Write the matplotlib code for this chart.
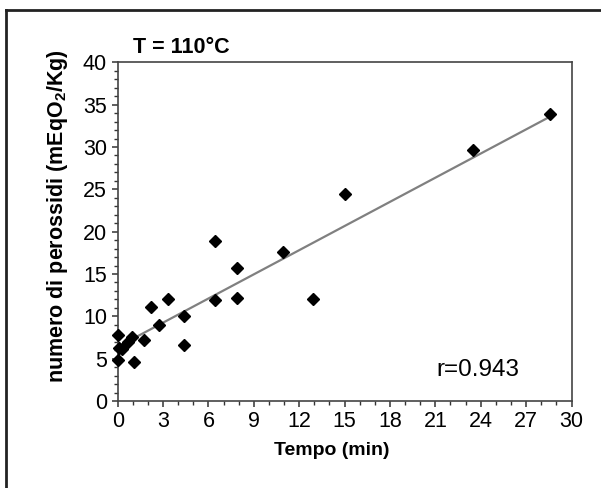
import matplotlib
matplotlib.use("Agg")
import matplotlib.pyplot as plt
from matplotlib.lines import Line2D

plt.rcParams['font.family'] = ['Liberation Sans', 'DejaVu Sans']
plt.rcParams['mathtext.fontset'] = 'custom'
plt.rcParams['mathtext.rm'] = 'Liberation Sans'
plt.rcParams['mathtext.bf'] = 'Liberation Sans:bold'

# data (time in min, peroxide number)
time_min = [0.0, 0.0, 0.1, 0.3, 0.7, 0.95, 1.1, 1.75, 2.2, 2.75, 3.35, 4.4, 4.4,
            6.4, 6.4, 7.9, 7.9, 10.9, 12.9, 15.05, 23.5, 28.6]
peroxide = [7.8, 4.8, 6.3, 6.1, 7.0, 7.6, 4.6, 7.2, 11.1, 9.0, 12.0, 10.0, 6.6,
            18.9, 11.9, 15.7, 12.2, 17.6, 12.0, 24.4, 29.6, 33.9]
fit_x = [0.0, 28.6]
fit_y = [6.4, 33.6]
x_ticks = [0, 3, 6, 9, 12, 15, 18, 21, 24, 27, 30]
y_ticks = [0, 5, 10, 15, 20, 25, 30, 35, 40]

W, H = 601, 488
fig = plt.figure(figsize=(W / 100, H / 100), dpi=100)
ax = fig.add_axes([117.7 / W, 1 - 401 / H, (571.5 - 117.7) / W, (401 - 62.3) / H])

ax.plot(fit_x, fit_y, color='#808080', lw=1.6, zorder=2)
ax.plot(time_min, peroxide, 'D', color='black', ms=6.2, zorder=3, clip_on=False)

ax.set_xlim(0, 30)
ax.set_ylim(0, 40)
ax.set_xticks(x_ticks)
ax.set_yticks(y_ticks)
ax.set_xticks(range(0, 31), minor=True)
ax.set_yticks(range(0, 41), minor=True)
ax.tick_params(which='major', direction='out', length=4.2, width=1.1, color='#333333',
               labelsize=15.5)
ax.tick_params(axis='x', which='major', pad=3)
ax.tick_params(axis='y', which='major', pad=3.5)
ax.tick_params(which='minor', direction='out', length=3.2, width=1.0, color='#333333')
for s in ax.spines.values():
    s.set_color('#444444')
    s.set_linewidth(1.2)

ax.set_xlabel('Tempo (min)', fontsize=14, fontweight='bold')
ax.xaxis.set_label_coords(0.4716, -0.122)
ax.set_ylabel(r'numero di perossidi (mEqO$_\mathbf{2}$/Kg)', fontsize=15.5, fontweight='bold')
ax.yaxis.set_label_coords(-0.105, 0.545)

fig.text(133 / W, 1 - 53.3 / H, 'T = 110°C', fontsize=15.5, fontweight='bold', va='baseline', ha='left')
fig.text(436 / W, 1 - 376 / H, 'r=0.943', fontsize=17.5, va='baseline', ha='left')

# outer frame (left and top edges)
fig.add_artist(Line2D([6 / W, 6 / W], [0, 1 - 10 / H], transform=fig.transFigure, color='#222222', lw=2))
fig.add_artist(Line2D([6 / W, 1], [1 - 10 / H, 1 - 10 / H], transform=fig.transFigure, color='#222222', lw=2))

fig.savefig('out.png', dpi=100)
